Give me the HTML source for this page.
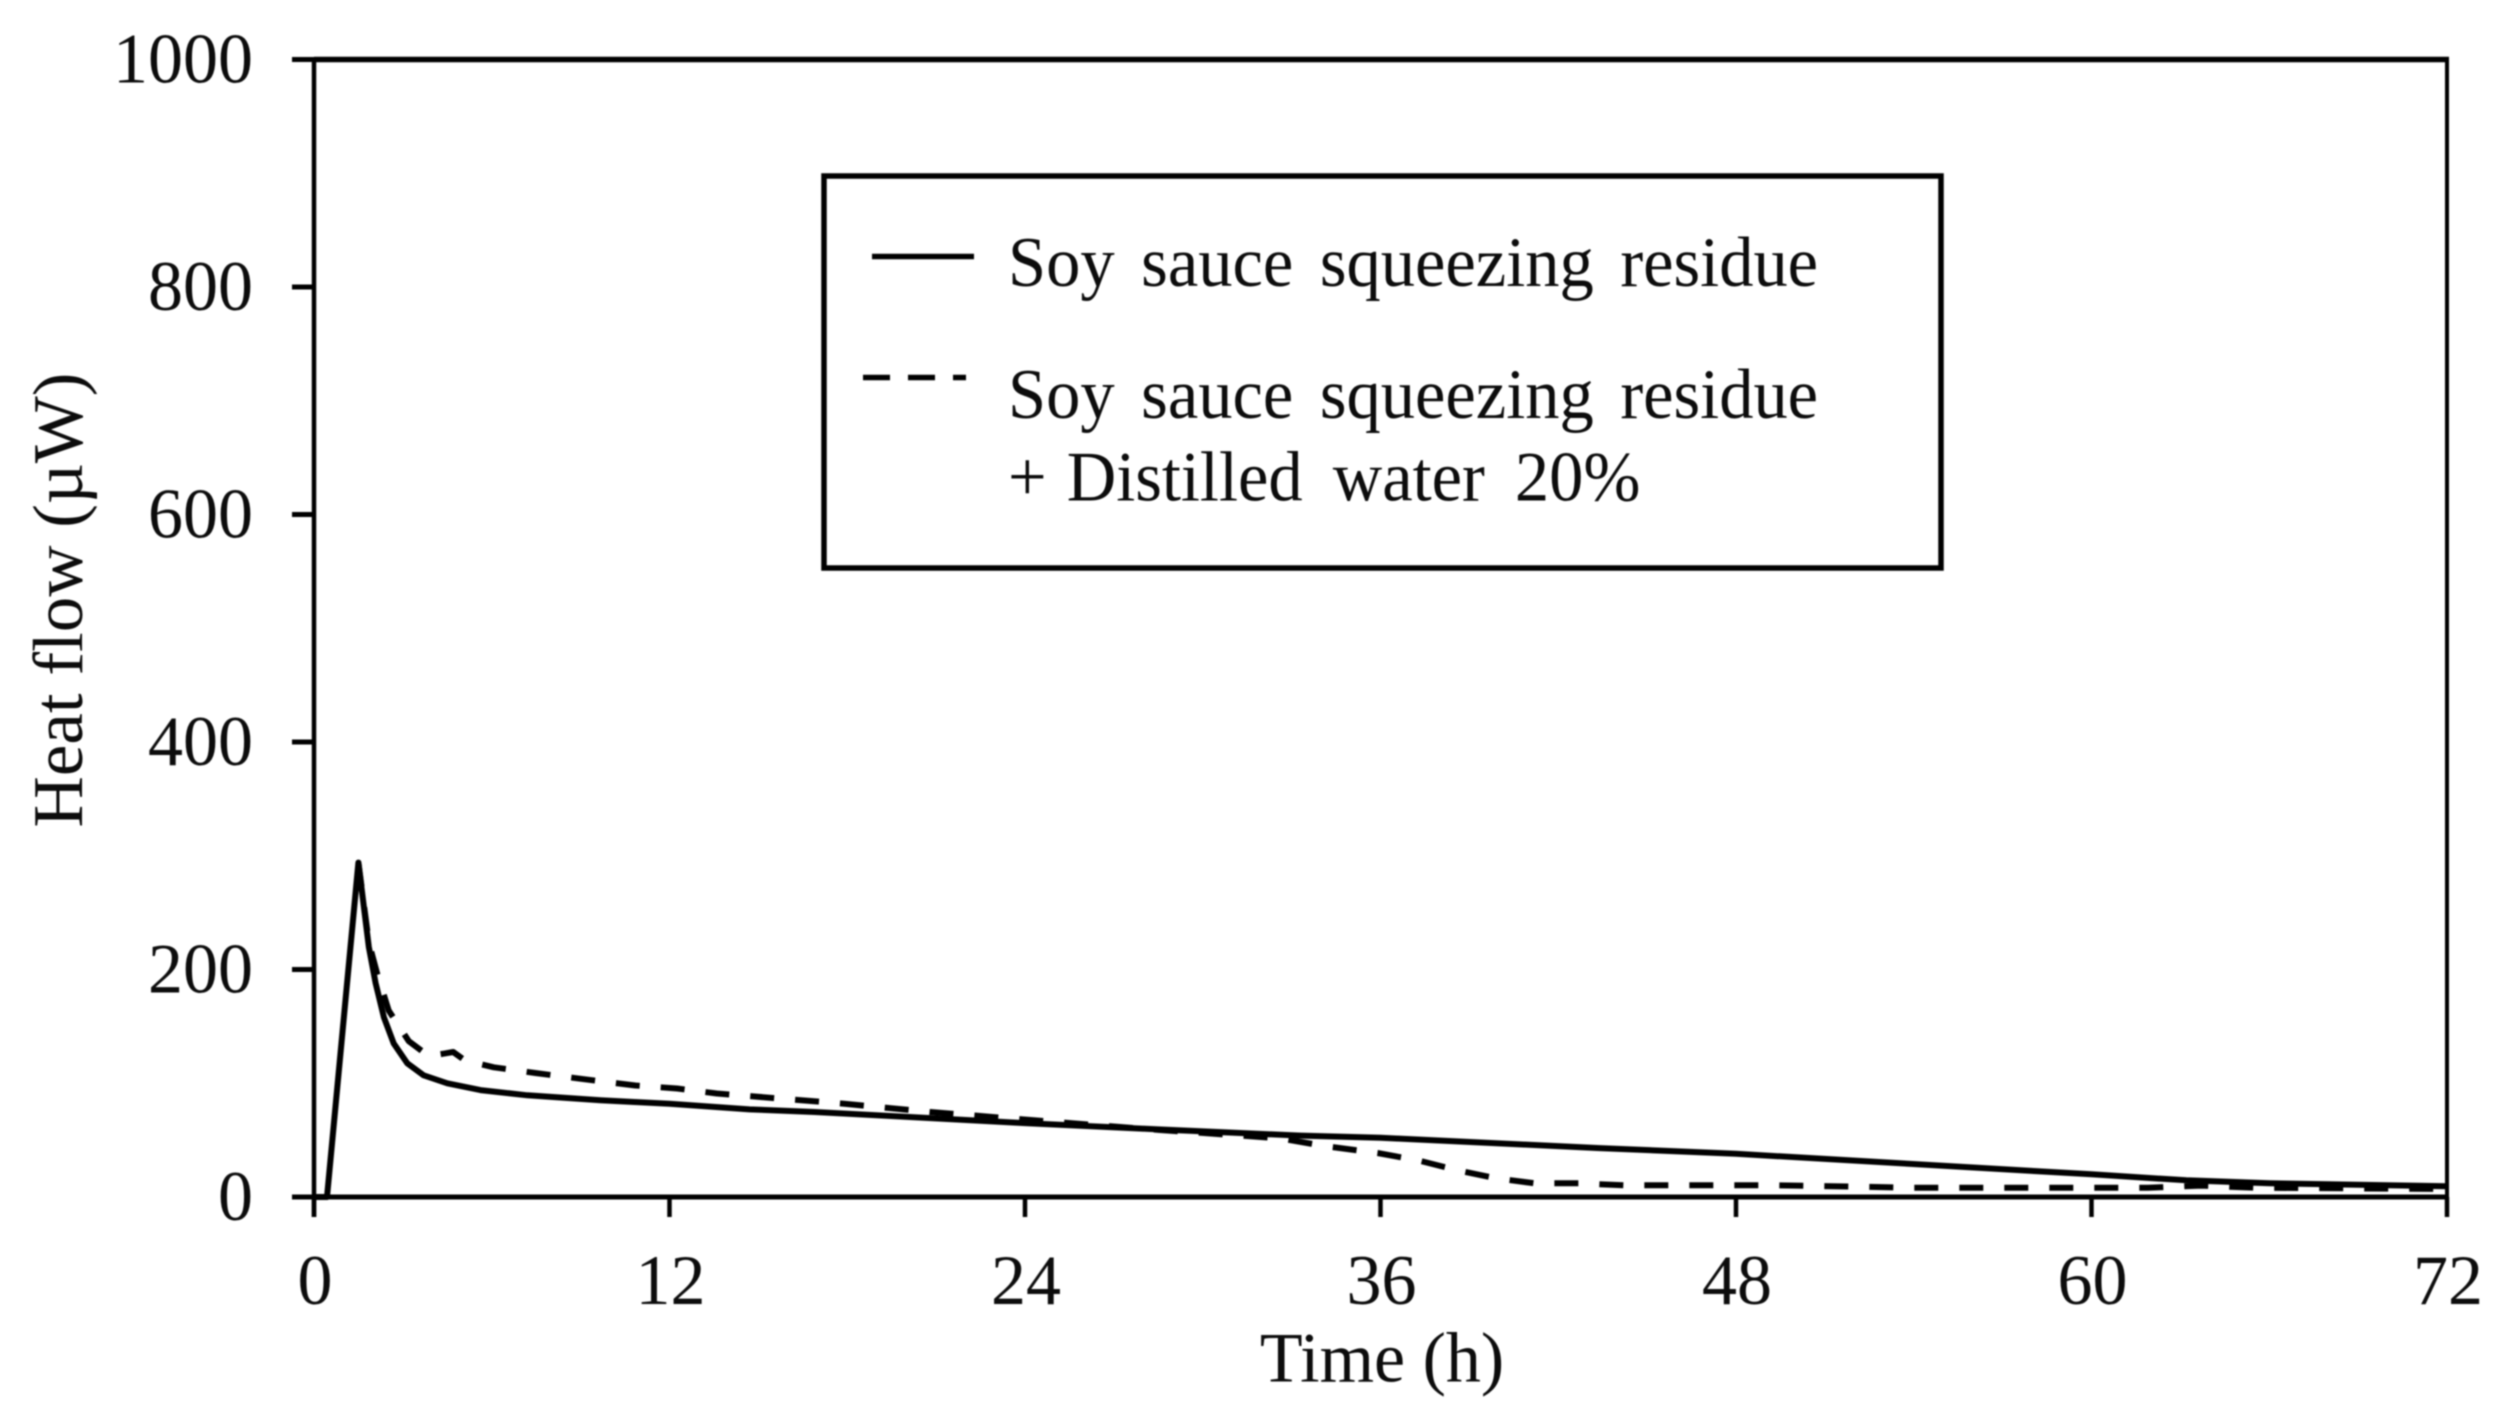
<!DOCTYPE html>
<html lang="en">
<head>
<meta charset="utf-8">
<title>Heat flow over time</title>
<style>
html,body{margin:0;padding:0;background:#fff;width:2508px;height:1420px;overflow:hidden}
svg{display:block;filter:blur(0.9px)}
text{font-family:"Liberation Serif",serif;fill:#0c0c0c}
</style>
</head>
<body>
<svg id="chart" width="2508" height="1420" viewBox="0 0 2508 1420" xmlns="http://www.w3.org/2000/svg">
  <rect x="0" y="0" width="2508" height="1420" fill="#ffffff"/>
  <g id="axes"></g>
  <g id="series"></g>
  <text transform="translate(1382,1381.5) scale(1,1.02)" font-size="70" text-anchor="middle">Time (h)</text>
  <text transform="translate(82,600) rotate(-90)" font-size="71" text-anchor="middle">Heat flow (µW)</text>
  <g>
    <rect x="824" y="176" width="1117" height="392" fill="#ffffff" stroke="#000" stroke-width="5.5"/>
    <line x1="872" y1="256.5" x2="974" y2="256.5" stroke="#000" stroke-width="5.5"/>
    <line x1="863" y1="377.5" x2="966" y2="377.5" stroke="#000" stroke-width="5.5" stroke-dasharray="27 18"/>
    <text transform="translate(1008,286) scale(1,1.03)" font-size="68.5" word-spacing="9.5">Soy sauce squeezing residue</text>
    <text transform="translate(1008,418) scale(1,1.03)" font-size="68.5" word-spacing="9.5">Soy sauce squeezing residue</text>
    <text transform="translate(1008,500.5) scale(1,1.03)" font-size="68.5" word-spacing="13">+<tspan dx="-10"> Distilled water 20%</tspan></text>
  </g>
</svg>
<script>
var xTickValues = [0, 12, 24, 36, 48, 60, 72];
var yTickValues = [0, 200, 400, 600, 800, 1000];

var timeSolid = [0, 0.44, 1.5, 1.85, 2.08, 2.36, 2.69, 3.15, 3.7, 4.5, 5.62, 7.2, 9.67, 12, 14.7, 16.9, 24, 28.5, 33.3, 36, 43.4, 48, 60, 63.2, 66, 72];
var heatSolid = [0, 0, 294, 220, 188, 158, 135, 117.5, 107, 100, 94, 89.4, 85, 82, 77, 74.7, 65, 59.4, 54, 52, 43, 38, 20, 14.7, 12, 9.4];

var timeDashed = [1.5, 1.85, 2.13, 2.52, 3.2, 3.87, 4.37, 4.7, 5.1, 6.07, 7.47, 8.98, 10.85, 12.26, 13.6, 17.9, 20.8, 24.3, 28.5, 32.6, 34.1, 35.9, 37.3, 38.6, 39.9, 41.2, 42.7, 44.2, 49.4, 54, 61.9, 63.7, 65.5, 72];
var heatDashed = [294, 224, 196.6, 164, 137, 124, 126, 127.5, 120, 114, 109, 104, 98, 95.4, 91, 82, 74.7, 67.4, 59, 51.6, 44.8, 38.7, 32, 23.5, 16.4, 12, 12, 10.3, 10.3, 8.2, 8.2, 10, 8.2, 7];

var SVG_NS = 'http://www.w3.org/2000/svg';
var plotLeft = 314, plotRight = 2447, plotTop = 59.5, plotBottom = 1197;
var xMax = 72, yMax = 1000;
function xScale(t) { return plotLeft + (plotRight - plotLeft) * t / xMax; }
function yScale(v) { return plotBottom - (plotBottom - plotTop) * v / yMax; }

var axes = document.getElementById('axes');
var seriesGroup = document.getElementById('series');

function makeLine(x1, y1, x2, y2, w) {
  var el = document.createElementNS(SVG_NS, 'line');
  el.setAttribute('x1', x1);
  el.setAttribute('y1', y1);
  el.setAttribute('x2', x2);
  el.setAttribute('y2', y2);
  el.setAttribute('stroke', '#000');
  el.setAttribute('stroke-width', w);
  return el;
}

var frame = [
  ['plot-border-top', plotLeft, plotTop, plotRight + 2, plotTop, 5.5],
  ['plot-border-bottom', plotLeft, plotBottom, plotRight + 2, plotBottom, 5],
  ['plot-border-left', plotLeft, plotTop, plotLeft, 1217, 4.5],
  ['plot-border-right', plotRight, plotTop, plotRight, 1217, 4]
];
frame.forEach(function (f) {
  var el = makeLine(f[1], f[2], f[3], f[4], f[5]);
  
  
  axes.appendChild(el);
});

yTickValues.forEach(function (v) {
  var y = yScale(v);
  var tick = makeLine(292, y, plotLeft, y, 5);
  
  
  axes.appendChild(tick);
  var label = document.createElementNS(SVG_NS, 'text');
  label.setAttribute('transform', 'translate(253,' + (y + 23) + ') scale(1,1.02)');
  label.setAttribute('font-size', '70');
  label.setAttribute('text-anchor', 'end');
  label.textContent = String(v);
  
  
  axes.appendChild(label);
});

xTickValues.forEach(function (t) {
  var x = xScale(t);
  var tick = makeLine(x, plotBottom, x, 1217, 4.5);
  
  
  axes.appendChild(tick);
  var label = document.createElementNS(SVG_NS, 'text');
  label.setAttribute('transform', 'translate(' + (x + 1) + ',1304) scale(1,1.02)');
  label.setAttribute('font-size', '70');
  label.setAttribute('text-anchor', 'middle');
  label.textContent = String(t);
  
  
  axes.appendChild(label);
});

function pathFrom(times, values) {
  return times.map(function (t, i) {
    return (i ? 'L' : 'M') + xScale(t).toFixed(1) + ' ' + yScale(values[i]).toFixed(1);
  }).join(' ');
}

var dashedPath = document.createElementNS(SVG_NS, 'path');
dashedPath.setAttribute('d', pathFrom(timeDashed, heatDashed));
dashedPath.setAttribute('fill', 'none');
dashedPath.setAttribute('stroke', '#000');
dashedPath.setAttribute('stroke-width', '6');
dashedPath.setAttribute('stroke-linejoin', 'round');
dashedPath.setAttribute('stroke-dasharray', '24 21');


seriesGroup.appendChild(dashedPath);

var solidPath = document.createElementNS(SVG_NS, 'path');
solidPath.setAttribute('d', pathFrom(timeSolid, heatSolid));
solidPath.setAttribute('fill', 'none');
solidPath.setAttribute('stroke', '#000');
solidPath.setAttribute('stroke-width', '6');
solidPath.setAttribute('stroke-linejoin', 'round');


seriesGroup.appendChild(solidPath);
</script>
</body>
</html>
